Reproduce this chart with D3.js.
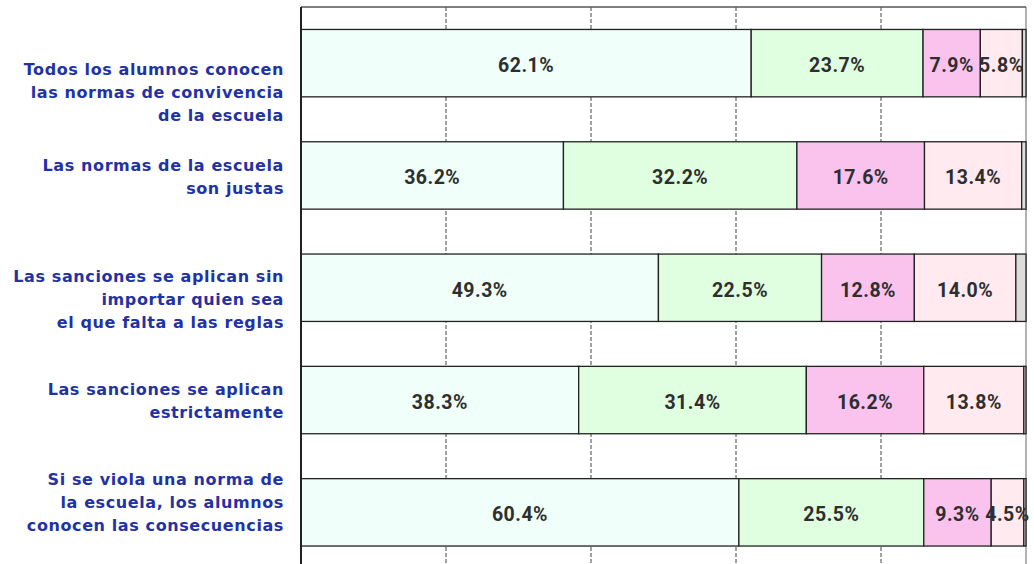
<!DOCTYPE html>
<html lang="es">
<head>
<meta charset="UTF-8">
<title>Normas de convivencia</title>
<script src="https://d3js.org/d3.v7.min.js"></script>
<style>
  body { margin: 0; background: #fff; }
  .cat { font-family: "DejaVu Sans", sans-serif; font-weight: bold; font-size: 16px; letter-spacing: 0.6px; fill: #1f32a6; }
  .val { font-family: Roboto, sans-serif; font-weight: bold; font-size: 19.5px; letter-spacing: 0.5px; fill: #2e2e2e; }
</style>
</head>
<body>
<div id="chart"></div>
<script>
const categories = [
  ["Todos los alumnos conocen", "las normas de convivencia", "de la escuela"],
  ["Las normas de la escuela", "son justas"],
  ["Las sanciones se aplican sin", "importar quien sea", "el que falta a las reglas"],
  ["Las sanciones se aplican", "estrictamente"],
  ["Si se viola una norma de", "la escuela, los alumnos", "conocen las consecuencias"]
];
const serie1 = [62.1, 36.2, 49.3, 38.3, 60.4];
const serie2 = [23.7, 32.2, 22.5, 31.4, 25.5];
const serie3 = [7.9, 17.6, 12.8, 16.2, 9.3];
const serie4 = [5.8, 13.4, 14.0, 13.8, 4.5];
const serie5 = [0.5, 0.6, 1.4, 0.3, 0.3];
const xTicks = [0, 20, 40, 60, 80, 100];

const colors = ["#f0fffa", "#e0ffe0", "#f9c3ee", "#ffeaf0", "#dcdcdc"];
// first-line offset of each category label from its band centre
const labelShift = [6, -10, -12, -11, -33];

const W = 1034, H = 564;
const svg = d3.select("#chart").append("svg").attr("width", W).attr("height", H);

const x = d3.scaleLinear().domain([0, 100]).range([301, 1026]);
const y = d3.scaleBand().domain(d3.range(categories.length)).range([7, 568.5])
  .paddingInner(0.4).paddingOuter(0.2);

// grid
svg.append("g").selectAll("line").data(xTicks.slice(1, -1)).join("line")
  .attr("x1", d => x(d)).attr("x2", d => x(d))
  .attr("y1", 7).attr("y2", H)
  .attr("stroke", "#444").attr("stroke-width", 1).attr("stroke-dasharray", "4,2");
svg.append("line").attr("x1", x(100)).attr("x2", x(100)).attr("y1", 7).attr("y2", H)
  .attr("stroke", "#666").attr("stroke-width", 1);
svg.append("line").attr("x1", x(0)).attr("x2", x(100)).attr("y1", 7).attr("y2", 7)
  .attr("stroke", "#555").attr("stroke-width", 1.5);

const series = [serie1, serie2, serie3, serie4, serie5];
const rows = categories.map((c, i) => {
  let acc = 0;
  return series.map((s, k) => {
    const seg = { i, k, v: s[i], x0: acc, x1: acc + s[i] };
    acc += s[i];
    return seg;
  });
});

const bars = svg.append("g");
rows.forEach(row => {
  bars.selectAll(null).data(row).join("rect")
    .attr("x", d => x(d.x0)).attr("width", d => x(d.x1) - x(d.x0))
    .attr("y", d => y(d.i)).attr("height", y.bandwidth())
    .attr("fill", d => colors[d.k]).attr("stroke", "#222").attr("stroke-width", 1.3);
  bars.selectAll(null).data(row.filter(d => d.k < 4)).join("text")
    .attr("class", "val")
    .attr("x", d => x((d.x0 + d.x1) / 2)).attr("y", d => y(d.i) + y.bandwidth() / 2)
    .attr("text-anchor", "middle").attr("dy", "0.45em")
    .text(d => d.v.toFixed(1) + "%");
});

// left axis
svg.append("line").attr("x1", x(0)).attr("x2", x(0)).attr("y1", 7).attr("y2", H)
  .attr("stroke", "#222").attr("stroke-width", 2);

// category labels
const lab = svg.append("g");
categories.forEach((lines, i) => {
  const cy = y(i) + y.bandwidth() / 2 + labelShift[i];
  const t = lab.append("text").attr("class", "cat").attr("text-anchor", "end");
  lines.forEach((l, j) => {
    t.append("tspan").attr("x", 284).attr("y", cy + j * 23).attr("dy", "0.36em").text(l);
  });
});
</script>
</body>
</html>
